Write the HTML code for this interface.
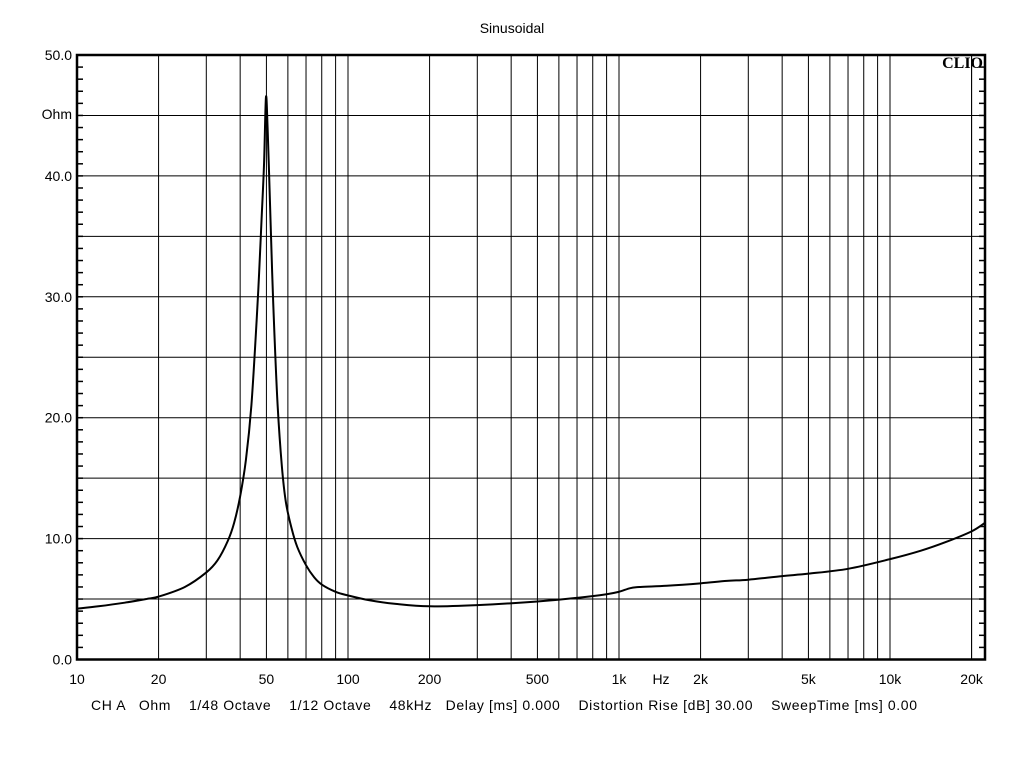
<!DOCTYPE html>
<html><head><meta charset="utf-8"><style>
body{margin:0;background:#fff;}
svg text{font-family:"Liberation Sans",sans-serif;font-size:14px;fill:#000;}
</style></head><body>
<svg width="1024" height="768" xmlns="http://www.w3.org/2000/svg">
<g id="grid"></g>
<g id="ticks"></g>
<g id="labels"></g>
<path id="curve" fill="none" stroke="#000" stroke-width="2"/>
<rect x="77" y="55" width="908" height="604.5" fill="none" stroke="#000" stroke-width="2.5"/>
<text x="512" y="33" text-anchor="middle">Sinusoidal</text>
<text x="72" y="119" text-anchor="end">Ohm</text>
<text x="983" y="68" text-anchor="end" style="font-family:'Liberation Serif',serif;font-weight:bold;font-size:16px">CLIO</text>
<text x="661" y="684" text-anchor="middle">Hz</text>
<text x="91" y="710" textLength="826" lengthAdjust="spacing" xml:space="preserve">CH A   Ohm    1/48 Octave    1/12 Octave    48kHz   Delay [ms] 0.000    Distortion Rise [dB] 30.00    SweepTime [ms] 0.00</text>
</svg>
<script>
const xTickValues=[10,20,50,100,200,500,1000,2000,5000,10000,20000];
const xTickLabels=["10","20","50","100","200","500","1k","2k","5k","10k","20k"];
const yTickValues=[0,10,20,30,40,50];
const yTickLabels=["0.0","10.0","20.0","30.0","40.0","50.0"];
const freqs=[10,12,15,18,20,25,30,33,36,38,40,42,44,46,47,48,49,49.8,50.5,51.5,52.5,53.5,55,57,59,62,65,70,75,80,90,100,120,150,200,300,500,700,900,1000,1100,1200,1500,2000,2500,3000,4000,5000,7000,10000,13000,16000,20000,22400];
const ohms=[4.2,4.4,4.7,5.0,5.2,6.0,7.2,8.2,9.8,11.3,13.5,16.5,21,28,32,36.5,41,46.5,44,38,32,27,21,16,13,10.8,9.3,7.8,6.8,6.2,5.6,5.3,4.9,4.6,4.4,4.5,4.8,5.1,5.4,5.6,5.9,6.0,6.1,6.3,6.5,6.6,6.9,7.1,7.5,8.3,9.0,9.7,10.6,11.3];
const L=77,R=985,T=55,B=659.5,dec=271,ymax=50;
const xs=f=>L+(Math.log10(f)-1)*dec;
const ys=v=>B-(v/ymax)*(B-T);
const NS="http://www.w3.org/2000/svg";
const mk=(p,tag,a)=>{const e=document.createElementNS(NS,tag);for(const k in a)e.setAttribute(k,a[k]);p.appendChild(e);return e;};
const grid=document.getElementById('grid'),ticks=document.getElementById('ticks'),labels=document.getElementById('labels');
for(let d=10;d<=10000;d*=10){for(let m=1;m<10;m++){const f=d*m;if(f===10)continue;const x=xs(f);if(x>=R)continue;
const l=mk(grid,'line',{x1:x,x2:x,y1:T,y2:B,stroke:'#000','stroke-width':1});

}}
{const x=xs(20000);const l=mk(grid,'line',{x1:x,x2:x,y1:T,y2:B,stroke:'#000','stroke-width':1});

}
for(let v=5;v<50;v+=5){const y=ys(v);const l=mk(grid,'line',{x1:L,x2:R,y1:y,y2:y,stroke:'#000','stroke-width':1});

}
for(let v=1;v<50;v++){const y=ys(v);
const a=mk(ticks,'line',{x1:L,x2:L+6,y1:y,y2:y,stroke:'#000','stroke-width':1.5});


const b=mk(ticks,'line',{x1:R-6,x2:R,y1:y,y2:y,stroke:'#000','stroke-width':1.5});

}
xTickValues.forEach((f,i)=>{const t=mk(labels,'text',{x:xs(f),y:684,'text-anchor':'middle'});t.textContent=xTickLabels[i];

});
yTickValues.forEach((v,i)=>{const t=mk(labels,'text',{x:72,y:ys(v)+5,'text-anchor':'end'});t.textContent=yTickLabels[i];

});
const pts=freqs.map((f,i)=>[xs(f),ys(ohms[i])]);
let d='M'+pts[0][0]+','+pts[0][1];
for(let i=0;i<pts.length-1;i++){const p0=pts[Math.max(0,i-1)],p1=pts[i],p2=pts[i+1],p3=pts[Math.min(pts.length-1,i+2)];
const c1=[p1[0]+(p2[0]-p0[0])/6,p1[1]+(p2[1]-p0[1])/6],c2=[p2[0]-(p3[0]-p1[0])/6,p2[1]-(p3[1]-p1[1])/6];
d+=` C${c1[0]},${c1[1]} ${c2[0]},${c2[1]} ${p2[0]},${p2[1]}`;}
document.getElementById('curve').setAttribute('d',d);
</script>
</body></html>
